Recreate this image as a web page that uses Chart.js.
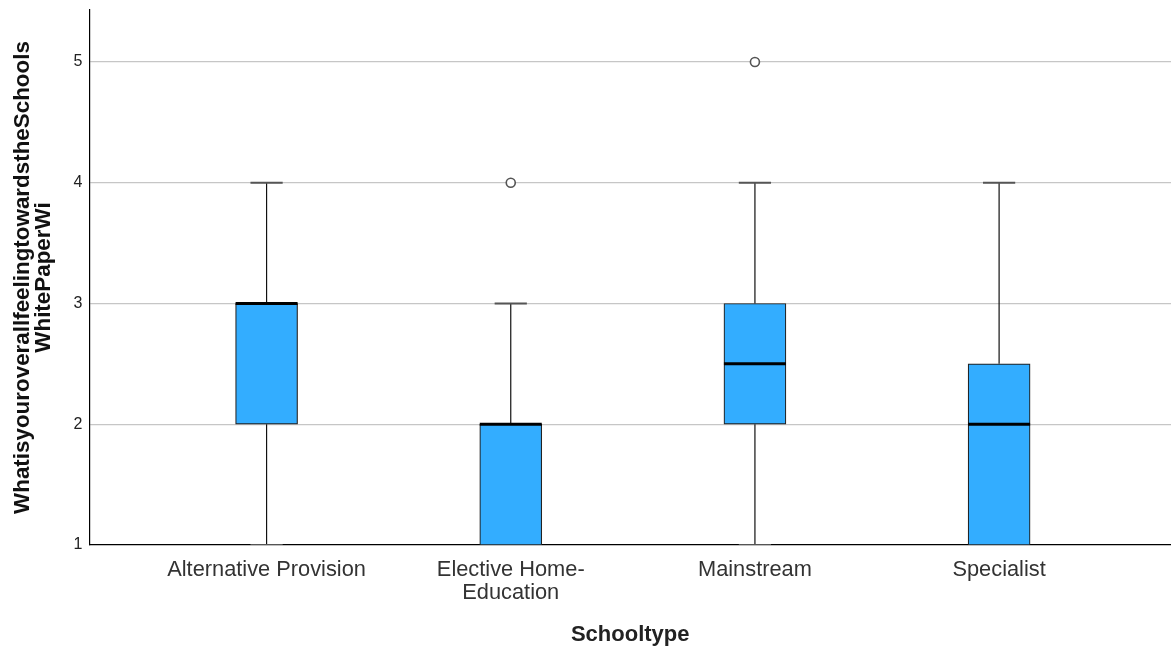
<!DOCTYPE html>
<html>
<head>
<meta charset="utf-8">
<script src="https://cdn.jsdelivr.net/npm/chart.js@4.4.1/dist/chart.umd.min.js"></script>
<style>
  html, body { margin: 0; padding: 0; background: #fff; }
  #wrap { width: 1171px; height: 651px; }
</style>
</head>
<body>
<div id="wrap"><canvas id="c" width="1171" height="651"></canvas></div>
<script>
// Box-plot summary per school type
const schoolTypes = [['Alternative Provision'], ['Elective Home-', 'Education'], ['Mainstream'], ['Specialist']];
const whiskerLow  = [1, 1, 1, 1];
const q1          = [2, 1, 2, 1];
const median      = [3, 2, 2.5, 2];
const q3          = [3, 2, 3, 2.5];
const whiskerHigh = [4, 3, 4, 4];
const outliers    = [[], [4], [5], []];
const yTicks      = [1, 2, 3, 4, 5];

// Drawing constants (in category units along x)
const CAP_HALF = 0.066;
const MED_HALF = 0.127;
const BOX_COLOR = 'rgb(51,173,255)';

const whiskerPts = [], capPts = [], medianPts = [], outlierPts = [], boxPts = [];
schoolTypes.forEach((_, i) => {
  if (whiskerLow[i] < q1[i]) {
    whiskerPts.push({x: i, y: whiskerLow[i]}, {x: i, y: q1[i]}, {x: i, y: null});
    capPts.push({x: i - CAP_HALF, y: whiskerLow[i]}, {x: i + CAP_HALF, y: whiskerLow[i]}, {x: i, y: null});
  }
  if (whiskerHigh[i] > q3[i]) {
    whiskerPts.push({x: i, y: q3[i]}, {x: i, y: whiskerHigh[i]}, {x: i, y: null});
    capPts.push({x: i - CAP_HALF, y: whiskerHigh[i]}, {x: i + CAP_HALF, y: whiskerHigh[i]}, {x: i, y: null});
  }
  medianPts.push({x: i - MED_HALF, y: median[i]}, {x: i + MED_HALF, y: median[i]}, {x: i, y: null});
  boxPts.push({x: i, y: [q1[i], q3[i]]});
  outliers[i].forEach(v => outlierPts.push({x: i, y: v}));
});

new Chart(document.getElementById('c'), {
  type: 'bar',
  data: {
    datasets: [
      { type: 'line', data: whiskerPts, borderColor: '#111', borderWidth: 1.2, pointRadius: 0, spanGaps: false, order: 4 },
      { type: 'line', data: capPts, borderColor: '#555', borderWidth: 2, pointRadius: 0, spanGaps: false, order: 3 },
      { type: 'bar', data: boxPts, backgroundColor: BOX_COLOR, borderColor: '#222', borderWidth: 1.2,
        borderSkipped: false, barThickness: 62, order: 2 },
      { type: 'line', data: medianPts, borderColor: '#000', borderWidth: 3, pointRadius: 0, spanGaps: false, order: 1 },
      { type: 'line', data: outlierPts, showLine: false, pointRadius: 4.5, pointBackgroundColor: '#fff',
        pointBorderColor: '#555', pointBorderWidth: 1.6, order: 0 }
    ]
  },
  options: {
    responsive: false,
    animation: false,
    devicePixelRatio: 1,
    layout: { autoPadding: false, padding: { left: 12, top: 10, right: 0, bottom: 3 } },
    plugins: { legend: { display: false }, tooltip: { enabled: false } },
    scales: {
      x: {
        type: 'linear',
        offset: false,
        min: -0.7254,
        max: 3.704,
        afterBuildTicks: s => { s.ticks = schoolTypes.map((_, i) => ({ value: i })); },
        ticks: {
          autoSkip: false, maxRotation: 0, padding: 13,
          color: '#333', font: { family: 'Liberation Sans, Arial, sans-serif', size: 21.8 , lineHeight: 1.08 },
          callback: v => schoolTypes[v]
        },
        grid: { display: false, drawTicks: false },
        border: { display: true, color: '#000', width: 1.2 },
        title: {
          display: true, text: 'Schooltype', color: '#222',
          font: { family: 'Liberation Sans, Arial, sans-serif', size: 22, weight: 'bold' },
          padding: { top: 3.5, bottom: 0 }
        }
      },
      y: {
        min: 1,
        max: 5.43,
        afterBuildTicks: s => { s.ticks = yTicks.map(v => ({ value: v })); },
        afterFit: s => { s.paddingTop = 0; s.paddingBottom = 0; },
        ticks: {
          padding: 7, color: '#222',
          font: { family: 'Liberation Sans, Arial, sans-serif', size: 16 }
        },
        grid: {
          drawTicks: false,
          color: c => (c.tick && c.tick.value === 1) ? 'rgba(0,0,0,0)' : '#c6c6c6',
          lineWidth: 1.2
        },
        border: { display: true, color: '#000', width: 1.2 },
        title: {
          display: true,
          text: ['WhatisyouroverallfeelingtowardstheSchools', 'WhitePaperWi'],
          color: '#111',
          font: { family: 'Liberation Sans, Arial, sans-serif', size: 22.4, weight: 'bold', lineHeight: 0.95 },
          padding: { top: 0, bottom: 12 }
        }
      }
    }
  }
});
</script>
</body>
</html>
